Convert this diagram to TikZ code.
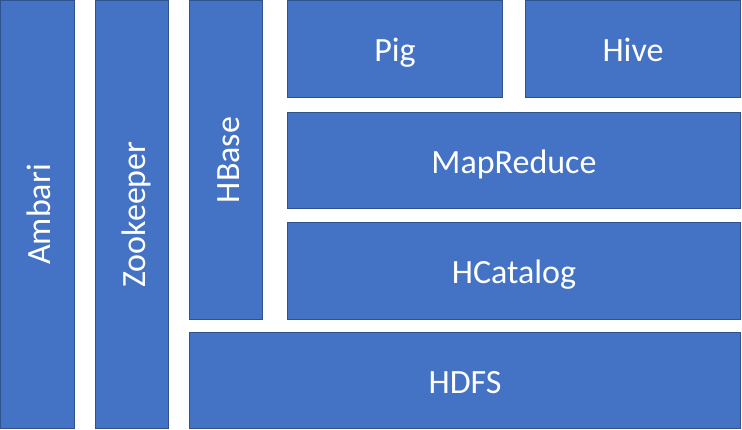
\documentclass[tikz,border=0pt]{standalone}
\usepackage{fontspec}
\setmainfont{Carlito}
\usetikzlibrary{positioning}
\definecolor{layerfill}{HTML}{4472C4}
\definecolor{layeredge}{HTML}{2F528F}
\begin{document}
\begin{tikzpicture}[x=1pt, y=-1pt, font=\fontsize{34}{40}\selectfont,
  layer/.style={draw=layeredge, fill=layerfill, text=white, line width=0.8pt, inner sep=0pt, outer sep=0pt,
    text height=26pt, text depth=0pt},
  column/.style={layer, rotate=90}]
\useasboundingbox (0,0) rectangle (742,430);
% side columns
\node[column, minimum width=428pt, minimum height=74pt] (ambari) at (37.5, 214.5) {Ambari};
\node[column, minimum width=428pt, minimum height=73pt] (zookeeper) at (132, 214.5) {Zookeeper};
\node[column, minimum width=319pt, minimum height=73pt] (hbase) at (226, 160) {HBase};
%
\node[layer, minimum width=215pt, minimum height=97pt] (pig) at (395, 48.5) {Pig};
\node[layer, minimum width=215pt, minimum height=97pt] (hive) at (633, 48.5) {Hive};
\node[layer, minimum width=453pt, minimum height=96pt] (mapreduce) at (514, 160.5) {MapReduce};
\node[layer, minimum width=453pt, minimum height=97pt] (hcatalog) at (514, 271) {HCatalog};
\node[layer, minimum width=551pt, minimum height=96pt] (hdfs) at (465, 380.5) {HDFS};
\end{tikzpicture}
\end{document}
